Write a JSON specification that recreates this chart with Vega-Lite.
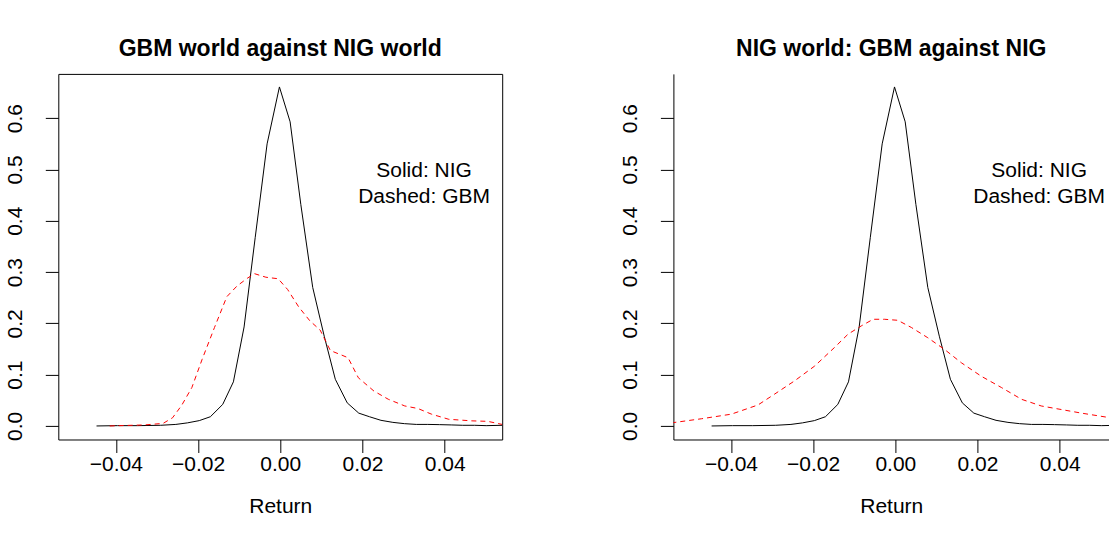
{
  "$schema": "https://vega.github.io/schema/vega-lite/v6.json",
  "background": "white",
  "padding": {"left": 3.3, "top": 36.9, "right": 0, "bottom": 0},
  "spacing": 171.1,
  "bounds": "flush",
  "config": {
    "font": "Liberation Sans",
    "view": {"stroke": "black", "strokeWidth": 1},
    "axis": {
      "grid": false, "domain": false, "tickColor": "black", "tickSize": 13, "tickWidth": 1,
      "labelColor": "black", "labelFont": "Liberation Sans", "labelFontSize": 21,
      "titleFont": "Liberation Sans", "titleFontSize": 21, "titleFontWeight": "normal", "titleColor": "black",
      "labelOverlap": false, "labelFlush": false
    },
    "axisX": {"labelPadding": 1, "titlePadding": 21},
    "axisY": {"labelAngle": 270, "labelAlign": "center", "labelBaseline": "alphabetic", "labelPadding": 24},
    "title": {"font": "Liberation Sans", "fontSize": 23, "fontWeight": "bold", "color": "black", "anchor": "middle", "offset": 13, "baseline": "bottom"}
  },
  "datasets": {
    "nig": [
      {"x": -0.0447, "y": 0.0}, {"x": -0.0396, "y": 0.0006}, {"x": -0.0347, "y": 0.0006}, {"x": -0.0291, "y": 0.0013},
      {"x": -0.0254, "y": 0.003}, {"x": -0.0226, "y": 0.006}, {"x": -0.0197, "y": 0.0104}, {"x": -0.017, "y": 0.018},
      {"x": -0.014, "y": 0.042}, {"x": -0.0114, "y": 0.086}, {"x": -0.0088, "y": 0.193}, {"x": -0.0061, "y": 0.367},
      {"x": -0.0032, "y": 0.55}, {"x": -0.0002, "y": 0.661}, {"x": 0.0024, "y": 0.593}, {"x": 0.005, "y": 0.432},
      {"x": 0.0079, "y": 0.27}, {"x": 0.0107, "y": 0.175}, {"x": 0.0134, "y": 0.091}, {"x": 0.0163, "y": 0.045},
      {"x": 0.0191, "y": 0.025}, {"x": 0.0217, "y": 0.018}, {"x": 0.0245, "y": 0.011}, {"x": 0.0274, "y": 0.007},
      {"x": 0.0302, "y": 0.0045}, {"x": 0.0331, "y": 0.003}, {"x": 0.0359, "y": 0.003}, {"x": 0.0387, "y": 0.0026},
      {"x": 0.0416, "y": 0.002}, {"x": 0.0444, "y": 0.0013}, {"x": 0.0473, "y": 0.0013}, {"x": 0.0501, "y": 0.0006},
      {"x": 0.054, "y": 0.0013}
    ],
    "gbm_left": [
      {"x": -0.0415, "y": 0.0}, {"x": -0.0375, "y": 0.001}, {"x": -0.033, "y": 0.002}, {"x": -0.0285, "y": 0.005},
      {"x": -0.0262, "y": 0.016}, {"x": -0.024, "y": 0.04}, {"x": -0.0215, "y": 0.075}, {"x": -0.019, "y": 0.13},
      {"x": -0.016, "y": 0.192}, {"x": -0.013, "y": 0.252}, {"x": -0.0105, "y": 0.273}, {"x": -0.008, "y": 0.288},
      {"x": -0.0063, "y": 0.297}, {"x": -0.0035, "y": 0.29}, {"x": -0.0005, "y": 0.287}, {"x": 0.0018, "y": 0.266},
      {"x": 0.0045, "y": 0.232}, {"x": 0.0072, "y": 0.205}, {"x": 0.0097, "y": 0.187}, {"x": 0.0122, "y": 0.147},
      {"x": 0.015, "y": 0.138}, {"x": 0.0165, "y": 0.133}, {"x": 0.019, "y": 0.094}, {"x": 0.0228, "y": 0.068},
      {"x": 0.0263, "y": 0.052}, {"x": 0.0303, "y": 0.039}, {"x": 0.0335, "y": 0.034}, {"x": 0.0368, "y": 0.023},
      {"x": 0.041, "y": 0.013}, {"x": 0.0465, "y": 0.01}, {"x": 0.0505, "y": 0.009}, {"x": 0.054, "y": 0.003}
    ],
    "gbm_right": [
      {"x": -0.0545, "y": 0.006}, {"x": -0.0472, "y": 0.014}, {"x": -0.0399, "y": 0.023}, {"x": -0.0334, "y": 0.041},
      {"x": -0.0294, "y": 0.062}, {"x": -0.0245, "y": 0.088}, {"x": -0.0196, "y": 0.117}, {"x": -0.0148, "y": 0.153},
      {"x": -0.0115, "y": 0.179}, {"x": -0.0083, "y": 0.195}, {"x": -0.0054, "y": 0.208}, {"x": -0.0026, "y": 0.208},
      {"x": 0.0006, "y": 0.206}, {"x": 0.0039, "y": 0.192}, {"x": 0.0079, "y": 0.172}, {"x": 0.012, "y": 0.149},
      {"x": 0.0161, "y": 0.123}, {"x": 0.0209, "y": 0.097}, {"x": 0.0258, "y": 0.075}, {"x": 0.0307, "y": 0.052},
      {"x": 0.0355, "y": 0.039}, {"x": 0.0404, "y": 0.032}, {"x": 0.0453, "y": 0.025}, {"x": 0.0523, "y": 0.016},
      {"x": 0.056, "y": 0.013}
    ],
    "notes": [
      {"x": 0.035, "y": 0.486, "label": "Solid: NIG"},
      {"x": 0.035, "y": 0.4347, "label": "Dashed: GBM"}
    ]
  },
  "hconcat": [
    {
      "title": "GBM world against NIG world",
      "width": 443.9,
      "height": 365.6,
      "encoding": {
        "x": {"field": "x", "type": "quantitative",
              "scale": {"domain": [-0.054, 0.054], "nice": false, "zero": false},
              "axis": {"values": [-0.04, -0.02, 0, 0.02, 0.04], "format": ".2f", "title": "Return"}},
        "y": {"field": "y", "type": "quantitative",
              "scale": {"domain": [-0.0264, 0.6864], "nice": false, "zero": false},
              "axis": {"values": [0, 0.1, 0.2, 0.3, 0.4, 0.5, 0.6], "format": ".1f", "title": null}}
      },
      "layer": [
        {"data": {"name": "nig"}, "mark": {"type": "line", "color": "black", "strokeWidth": 1, "clip": true}},
        {"data": {"name": "gbm_left"}, "mark": {"type": "line", "color": "#ff0000", "strokeWidth": 1, "strokeDash": [5, 4], "clip": true}},
        {"data": {"name": "notes"}, "mark": {"type": "text", "fontSize": 21, "align": "center", "baseline": "alphabetic", "color": "black", "font": "Liberation Sans"},
         "encoding": {"text": {"field": "label"}}}
      ]
    },
    {
      "title": "NIG world: GBM against NIG",
      "width": 435.7,
      "height": 365.6,
      "view": {"stroke": null},
      "encoding": {
        "x": {"field": "x", "type": "quantitative",
              "scale": {"domain": [-0.054, 0.05201], "nice": false, "zero": false},
              "axis": {"values": [-0.04, -0.02, 0, 0.02, 0.04], "format": ".2f", "title": "Return", "domain": true, "domainColor": "black", "domainWidth": 1}},
        "y": {"field": "y", "type": "quantitative",
              "scale": {"domain": [-0.0264, 0.6864], "nice": false, "zero": false},
              "axis": {"values": [0, 0.1, 0.2, 0.3, 0.4, 0.5, 0.6], "format": ".1f", "title": null, "domain": true, "domainColor": "black", "domainWidth": 1}}
      },
      "layer": [
        {"data": {"name": "nig"}, "mark": {"type": "line", "color": "black", "strokeWidth": 1, "clip": true}},
        {"data": {"name": "gbm_right"}, "mark": {"type": "line", "color": "#ff0000", "strokeWidth": 1, "strokeDash": [5, 4], "clip": true}},
        {"data": {"name": "notes"}, "mark": {"type": "text", "fontSize": 21, "align": "center", "baseline": "alphabetic", "color": "black", "font": "Liberation Sans"},
         "encoding": {"text": {"field": "label"}}},
        {"data": {"values": [{}]}, "mark": {"type": "rule", "color": "black", "strokeWidth": 1},
         "encoding": {"x": null, "y": {"datum": 0.6864, "type": "quantitative"}}}
      ]
    }
  ]
}
